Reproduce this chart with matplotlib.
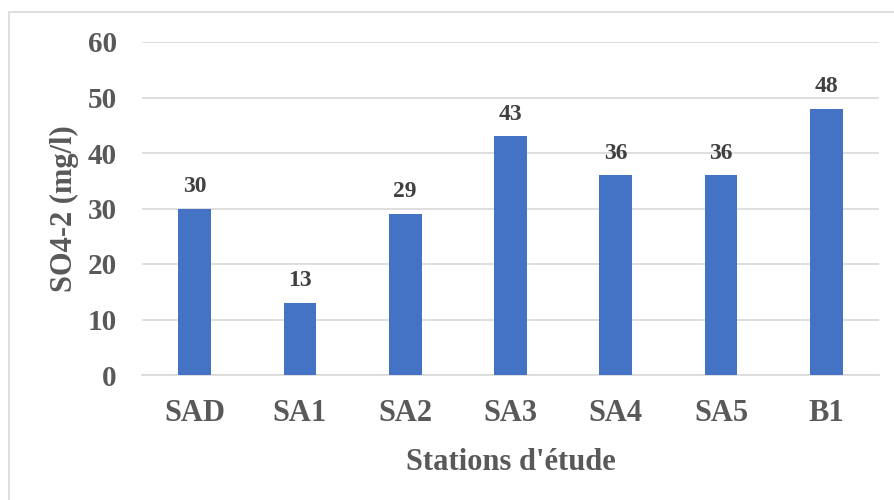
import matplotlib.pyplot as plt
from matplotlib.patches import Rectangle

stations = ['SAD', 'SA1', 'SA2', 'SA3', 'SA4', 'SA5', 'B1']
so4 = [30, 13, 29, 43, 36, 36, 48]
yticks = [0, 10, 20, 30, 40, 50, 60]

plt.rcParams['font.family'] = ['Liberation Serif', 'DejaVu Serif']
plt.rcParams['font.weight'] = 'bold'
gray = '#595959'

fig = plt.figure(figsize=(8.95, 5), dpi=100)
ax = fig.add_axes([142 / 895, 1 - 375 / 500, 737 / 895, 333 / 500])

bars = ax.bar(range(len(stations)), so4, width=0.31, color='#4472C4', zorder=3)
for b, v in zip(bars, so4):
    ax.text(b.get_x() + b.get_width() / 2, v + 3.0, str(v), ha='center', va='baseline',
            fontsize=17, fontweight='bold', color='#404040')

ax.set_xlim(-0.5, len(stations) - 0.5)
ax.set_ylim(0, 60)
ax.set_yticks(yticks)
ax.set_xticks(range(len(stations)))
ax.set_xticklabels(stations)
ax.tick_params(axis='x', length=0, labelsize=22, colors=gray, pad=17)
ax.tick_params(axis='y', length=0, labelsize=21, colors=gray, pad=18)
ax.grid(axis='y', color='#d9d9d9', lw=1.2, zorder=0)
for s in ['top', 'right', 'left']:
    ax.spines[s].set_visible(False)
ax.spines['bottom'].set_color('#d9d9d9')
ax.spines['bottom'].set_linewidth(1.2)

ax.set_xlabel("Stations d'étude", fontsize=22, fontweight='bold', color=gray, labelpad=15)
ax.set_ylabel('SO4-2 (mg/l)', fontsize=22, fontweight='bold', color=gray, labelpad=6)

fig.patches.append(Rectangle((9 / 895, -0.1), 1.0, (1 - 12 / 500) + 0.1, transform=fig.transFigure,
                             fill=False, edgecolor='#d9d9d9', lw=1.2))

fig.savefig('out.png', dpi=100)
